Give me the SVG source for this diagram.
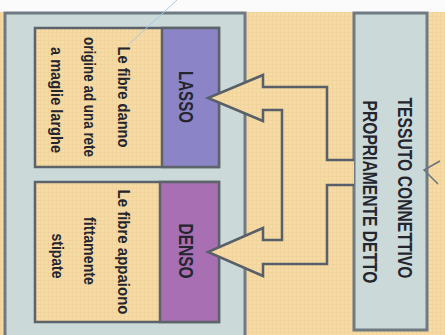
<svg xmlns="http://www.w3.org/2000/svg" width="445" height="335" viewBox="0 0 445 335">
  <defs>
    <pattern id="tex" width="4" height="4" patternUnits="userSpaceOnUse">
      <rect width="4" height="4" fill="#f6dba6"/>
      <path d="M0 0.5H4M0.5 0V4" stroke="#efcf95" stroke-width="1" opacity="0.6"/>
    </pattern>
  </defs>
  <style>
    .panel { fill: #cbdad9; stroke: #6f7a82; stroke-width: 3; }
    .box { stroke: #5c636b; stroke-width: 2.5; }
    .beige { fill: url(#tex); }
    .lbl { font-family: "Liberation Sans", Arial, sans-serif; font-weight: bold; fill: #24252e; text-anchor: middle; dominant-baseline: central; }
    .hd { font-size: 20px; }
    .tx { font-size: 16px; }
    .conn { fill: url(#tex); stroke: #585f68; stroke-width: 2.5; stroke-linejoin: miter; }
  </style>
  <rect x="0" y="0" width="445" height="335" fill="#fbfbfb"/>
  <rect x="0" y="12" width="445" height="323" class="beige"/>

  <g id="panel">
    <rect x="5" y="13" width="240" height="330" class="panel"/>
  </g>

  <g id="tessuto">
    <rect x="354" y="13" width="73" height="317" class="panel"/>
    <text class="lbl hd" transform="translate(405,188) rotate(90)" textLength="181" lengthAdjust="spacingAndGlyphs">TESSUTO CONNETTIVO</text>
    <text class="lbl hd" transform="translate(370,192) rotate(90)" textLength="183" lengthAdjust="spacingAndGlyphs">PROPRIAMENTE DETTO</text>
    <path d="M440 161 L424 170 L438 184" fill="none" stroke="#6a737b" stroke-width="1.5"/>
  </g>

  <g id="lasso">
    <rect x="35" y="28" width="184" height="139" class="box beige"/>
    <rect x="162" y="28" width="57" height="139" fill="#8b84c6" class="box"/>
    <text class="lbl hd" transform="translate(186,97) rotate(90)" textLength="52" lengthAdjust="spacingAndGlyphs">LASSO</text>
    <text class="lbl tx" transform="translate(123,97) rotate(90)" textLength="101" lengthAdjust="spacingAndGlyphs">Le fibre danno</text>
    <text class="lbl tx" transform="translate(89,97) rotate(90)" textLength="120" lengthAdjust="spacingAndGlyphs">origine ad una rete</text>
    <text class="lbl tx" transform="translate(56,100) rotate(90)" textLength="106" lengthAdjust="spacingAndGlyphs">a maglie larghe</text>
  </g>

  <g id="denso">
    <rect x="35" y="182" width="184" height="140" class="box beige"/>
    <rect x="160" y="182" width="59" height="140" fill="#a86fb3" class="box"/>
    <text class="lbl hd" transform="translate(186,251) rotate(90)" textLength="55" lengthAdjust="spacingAndGlyphs">DENSO</text>
    <text class="lbl tx" transform="translate(123,252) rotate(90)" textLength="125" lengthAdjust="spacingAndGlyphs">Le fibre appaiono</text>
    <text class="lbl tx" transform="translate(89,251) rotate(90)" textLength="68" lengthAdjust="spacingAndGlyphs">fittamente</text>
    <text class="lbl tx" transform="translate(57,256) rotate(90)" textLength="45" lengthAdjust="spacingAndGlyphs">stipate</text>
  </g>

  <g id="connectors">
    <path class="conn" d="M354 160 L327 160 L327 87 L263 87 L263 75 L208 98 L263 121 L263 110 L282 110 L282 240 L263 240 L263 228 L208 252 L263 276 L263 264 L327 264 L327 185 L354 185"/>
    <line x1="177" y1="0" x2="128" y2="45" stroke="#a9c7e4" stroke-width="1"/>
  </g>
</svg>
